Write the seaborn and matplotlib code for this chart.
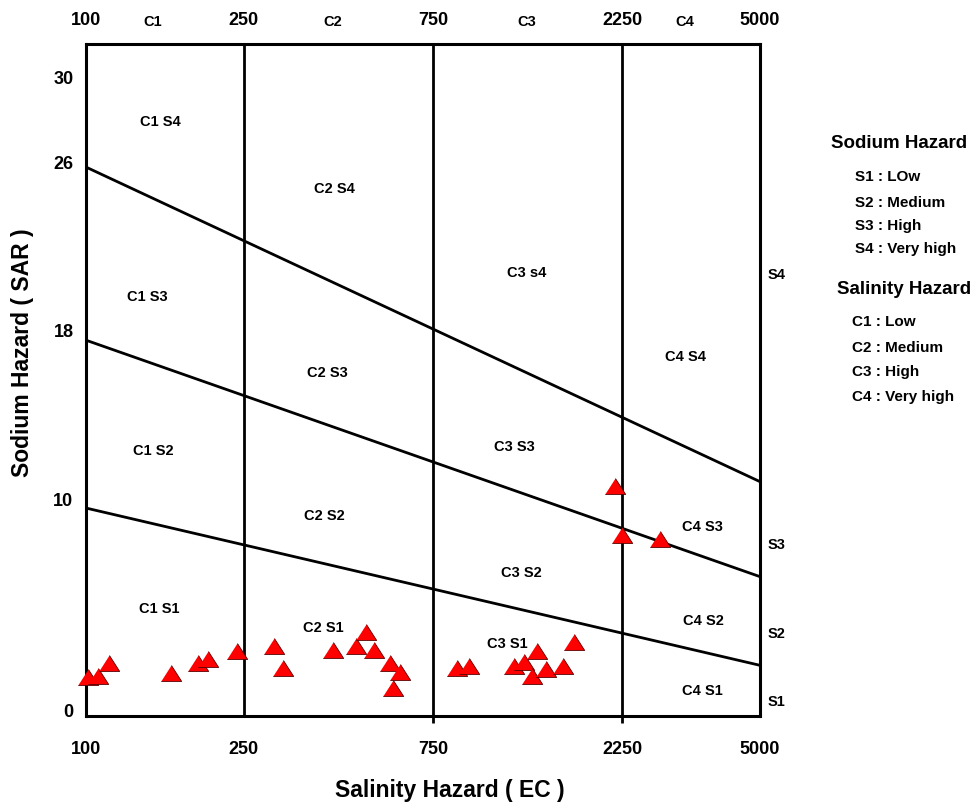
import numpy as np
import pandas as pd
import matplotlib
matplotlib.use("Agg")
import matplotlib.pyplot as plt
import seaborn as sns

# ---- data ----
ec = [101, 107, 114, 164, 192, 203, 240, 298, 313, 420, 479, 508, 533, 584, 619, 595,
      2155, 2248, 2798, 860, 925, 1202, 1271, 1373, 1329, 1444, 1597, 1699]
sar = [1.86, 1.91, 2.50, 2.04, 2.50, 2.70, 3.09, 3.33, 2.26, 3.14, 3.33, 3.97, 3.13, 2.51, 2.07, 1.31,
       10.91, 8.58, 8.39, 2.27, 2.38, 2.36, 2.55, 3.09, 1.91, 2.23, 2.38, 3.49]

ec_bounds = [100, 250, 750, 2250, 5000]
ec_bound_labels = ["100", "250", "750", "2250", "5000"]
sar_ticks = [0, 10, 18, 26, 30]
sar_tick_labels = ["0", "10", "18", "26", "30"]

# boundary lines between sodium classes (SAR at EC=100 and EC=5000)
line_names = ["S1/S2", "S2/S3", "S3/S4"]
line_left = [9.85, 17.8, 26.0]
line_right = [2.4, 6.6, 11.1]

c_labels = ["C1", "C2", "C3", "C4"]
c_label_x = [147, 420, 1293, 3236]

region_labels = ["C1 S4", "C2 S4", "C1 S3", "C2 S3", "C1 S2", "C2 S2", "C1 S1", "C2 S1",
                 "C3 s4", "C4 S4", "C3 S3", "C3 S2", "C4 S3", "C4 S2", "C3 S1", "C4 S1"]
region_x = [154, 422, 143, 405, 148, 398, 153, 396,
            1293, 3253, 1199, 1249, 3572, 3593, 1151, 3572]
region_y = [28.18, 25.0, 19.89, 16.29, 12.6, 9.52, 5.11, 4.21,
            21.03, 17.05, 12.79, 6.82, 9.0, 4.55, 3.46, 1.23]

s_side_labels = ["S4", "S3", "S2", "S1"]
s_side_y = [20.93, 8.15, 3.93, 0.71]

sodium_items = ["S1 : LOw", "S2 : Medium", "S3 : High", "S4 : Very high"]
salinity_items = ["C1 : Low", "C2 : Medium", "C3 : High", "C4 : Very high"]

# ---- style ----
sns.set_theme(style="white")
plt.rcParams["font.family"] = ["Liberation Sans", "DejaVu Sans"]
plt.rcParams["font.weight"] = "bold"
for k in ["text.color", "axes.labelcolor", "xtick.color", "ytick.color"]:
    plt.rcParams[k] = "black"

fig = plt.figure(figsize=(9.76, 8.03), dpi=100)
ax = fig.add_axes([86 / 976, 1 - 717 / 803, 674 / 976, 672 / 803])
ax.set_xscale("log")
ax.set_xlim(100, 5000)
ax.set_ylim(0, 31.83)

for s in ax.spines.values():
    s.set_color("black")
    s.set_linewidth(2.2)

# class boundaries
ax.vlines(ec_bounds[1:4], 0, 31.83, colors="black", linewidth=2.0, zorder=2)
ax.vlines(ec_bounds[2:4], -0.35, 0, colors="black", linewidth=2.0, clip_on=False)
for nm, l, r in zip(line_names, line_left, line_right):
    sns.lineplot(x=[ec_bounds[0], ec_bounds[-1]], y=[l, r], color="black",
                 linewidth=2.0, ax=ax, zorder=2)

# samples
tri = [(-1.0, -0.78), (1.0, -0.78), (0.0, 0.78)]
df = pd.DataFrame({"EC": ec, "SAR": sar})
sns.scatterplot(data=df, x="EC", y="SAR", marker=tri, s=215, color="#ff0000",
                edgecolor="#550000", linewidth=0.6, ax=ax, zorder=5, clip_on=False)

# ticks
ax.set_xticks(ec_bounds)
ax.set_xticklabels(ec_bound_labels)
ax.xaxis.set_minor_locator(matplotlib.ticker.NullLocator())
ax.set_yticks(sar_ticks)
ax.set_yticklabels(sar_tick_labels)
ax.tick_params(axis="x", length=0, pad=17, labelsize=13, colors="black")
ax.tick_params(axis="y", length=0, pad=9, labelsize=13, colors="black")
off = matplotlib.transforms.ScaledTranslation(0, 6 / 100, fig.dpi_scale_trans)
for lab in ax.get_yticklabels():
    lab.set_transform(lab.get_transform() + off)
    lab.set_fontweight("bold")
for lab in ax.get_xticklabels():
    lab.set_fontweight("bold")

# top labels
tr_top = matplotlib.transforms.blended_transform_factory(ax.transData, ax.transAxes)
for v, t in zip(ec_bounds, ec_bound_labels):
    ax.text(v, 1.036, t, transform=tr_top, ha="center", va="center", fontsize=13,
            fontweight="bold", color="black")
for v, t in zip(c_label_x, c_labels):
    ax.text(v, 1.034, t, transform=tr_top, ha="center", va="center", fontsize=10.5,
            fontweight="bold", color="black")

# region labels
for t, x, y in zip(region_labels, region_x, region_y):
    ax.text(x, y, t, ha="center", va="center", fontsize=10.5, fontweight="bold",
            color="black")

tr_side = matplotlib.transforms.blended_transform_factory(ax.transAxes, ax.transData)
for t, y in zip(s_side_labels, s_side_y):
    ax.text(1.024, y, t, transform=tr_side, ha="center", va="center", fontsize=10.5,
            fontweight="bold", color="black")

# axis labels
ax.set_xlabel("Salinity Hazard ( EC )", fontsize=16.5, fontweight="bold", color="black")
ax.xaxis.label.set_va("center")
ax.xaxis.set_label_coords(0.540, -0.109)
ax.set_ylabel("Sodium Hazard ( SAR )", fontsize=16.5, fontweight="bold", color="black")
ax.yaxis.label.set_va("center")
ax.yaxis.set_label_coords(-0.0935, 0.5417)

# legend text
fig.text(899 / 976, 1 - 143 / 803, "Sodium Hazard", ha="center", va="center",
         fontsize=13.5, fontweight="bold", color="black")
for t, py in zip(sodium_items, [177, 203, 226, 249]):
    fig.text(855 / 976, 1 - py / 803, t, ha="left", va="center", fontsize=11,
             fontweight="bold", color="black")
fig.text(904 / 976, 1 - 290 / 803, "Salinity Hazard", ha="center", va="center",
         fontsize=13.5, fontweight="bold", color="black")
for t, py in zip(salinity_items, [322, 348, 372, 397]):
    fig.text(852 / 976, 1 - py / 803, t, ha="left", va="center", fontsize=11,
             fontweight="bold", color="black")

fig.savefig("out.png", dpi=100, facecolor="white")
